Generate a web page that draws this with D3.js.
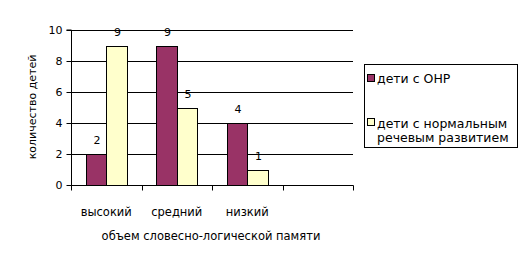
<!DOCTYPE html>
<html><head><meta charset="utf-8">
<script src="https://cdn.jsdelivr.net/npm/d3@7"></script>
<style>body{margin:0;background:#fff}text{font-family:"DejaVu Sans",Verdana,sans-serif}</style>
</head><body>
<script>
const categories = ["высокий","средний","низкий",""];
const seriesNames = ["дети с ОНР","дети с нормальным речевым развитием"];
const onr = [2,9,4,null];
const normal = [9,5,1,null];
const yTicks = [0,2,4,6,8,10];
const colors = ["#993366","#FFFFCC"];

(function(){
const W=529,H=267;
const svg=d3.select("body").append("svg").attr("width",W).attr("height",H);
const pl=71,pr=353,pt=30,pb=185;
const x=d3.scaleBand().domain(categories).range([pl,pr]).paddingInner(0).paddingOuter(0);
const y=d3.scaleLinear().domain([0,10]).range([pb,pt]);

// gridlines
svg.append("g").selectAll("line").data(yTicks.filter(d=>d>0)).join("line")
 .attr("x1",pl).attr("x2",pr).attr("y1",d=>Math.round(y(d))+0.5).attr("y2",d=>Math.round(y(d))+0.5)
 .attr("stroke","#000").attr("stroke-width",1);

// y axis
const ya=svg.append("g").attr("transform",`translate(${pl+0.5},0)`)
 .call(d3.axisLeft(y).tickValues(yTicks).tickSize(5).tickPadding(4));
ya.select(".domain").attr("d",`M-5,${pt}H0V${pb}`);
ya.selectAll("text").attr("font-size","11px").attr("font-family","DejaVu Sans, Verdana, sans-serif");

// bars
const sub=d3.scaleBand().domain([0,1]).range([0,x.bandwidth()]).paddingInner(0).paddingOuter(0.72);
const series=[onr,normal];
series.forEach((vals,si)=>{
  const g=svg.append("g");
  categories.forEach((c,i)=>{
    if(vals[i]==null) return;
    const bx=x(c)+sub(si), bw=sub.bandwidth();
    const x0=Math.round(bx), x1=Math.round(bx+bw);
    g.append("rect").attr("x",x0+0.5).attr("y",Math.round(y(vals[i]))+0.5)
     .attr("width",x1-x0).attr("height",Math.round(y(0))-Math.round(y(vals[i])))
     .attr("fill",colors[si]).attr("stroke","#000").attr("stroke-width",1);
    g.append("text").attr("x",bx+bw/2+1).attr("y",y(vals[i])-10)
     .attr("text-anchor","middle").attr("font-size","11px").text(vals[i]);
  });
});

// x axis
const xa=svg.append("g").attr("transform",`translate(0,${pb+0.5})`);
xa.append("line").attr("x1",pl).attr("x2",pr+0.5).attr("stroke","#000");
const bounds=categories.map(c=>x(c)).concat([pr]);
xa.selectAll("line.t").data(bounds).join("line").attr("class","t")
 .attr("x1",d=>Math.round(d)+0.5).attr("x2",d=>Math.round(d)+0.5).attr("y1",0).attr("y2",5).attr("stroke","#000");
xa.selectAll("text").data(categories).join("text")
 .attr("x",d=>x(d)+x.bandwidth()/2).attr("y",30).attr("text-anchor","middle")
 .attr("font-size","11.5px").text(d=>d);

// axis titles
svg.append("text").attr("x",211).attr("y",240).attr("text-anchor","middle")
 .attr("font-size","11.5px").text("объем словесно-логической памяти");
svg.append("text").attr("transform","translate(36,107) rotate(-90)").attr("text-anchor","middle")
 .attr("font-size","11px").text("количество детей");

// legend
const lg=svg.append("g");
lg.append("rect").attr("x",364.5).attr("y",64.5).attr("width",153).attr("height",83)
 .attr("fill","#fff").attr("stroke","#000");
const items=[{c:colors[0],lines:[seriesNames[0]],y:74,b:83},{c:colors[1],lines:["дети с нормальным","речевым развитием"],y:118,b:128}];
items.forEach(it=>{
  lg.append("rect").attr("x",367.5).attr("y",it.y+0.5).attr("width",7).attr("height",7)
   .attr("fill",it.c).attr("stroke","#000");
  it.lines.forEach((l,k)=>{
    lg.append("text").attr("x",377).attr("y",it.b+k*14).attr("font-size","12.5px")
     .attr("font-family","Open Sans, sans-serif").text(l);
  });
});
})();
</script>
</body></html>
